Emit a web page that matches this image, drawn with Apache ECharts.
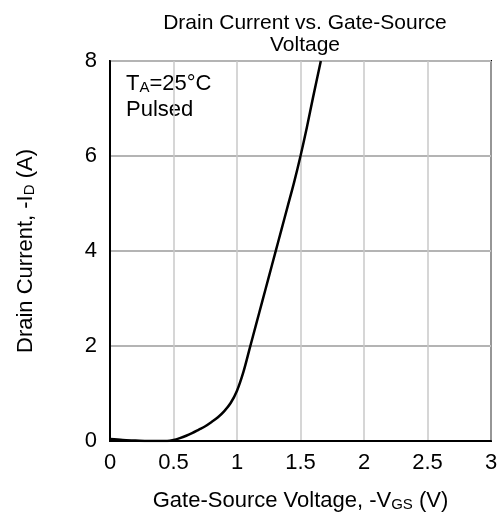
<!DOCTYPE html>
<html>
<head>
<meta charset="utf-8">
<script src="https://cdn.jsdelivr.net/npm/echarts@6/dist/echarts.min.js"></script>
<style>
  html, body { margin: 0; padding: 0; background: #fff; }
  #chart { width: 498px; height: 519px; }
</style>
</head>
<body>
<div id="chart"></div>
<script>
// 栅源电压 -VGS (V)
var vgs = [0, 0.1, 0.2, 0.3, 0.4, 0.45, 0.5, 0.55, 0.6, 0.65, 0.7, 0.75, 0.8, 0.85, 0.9, 0.95, 1.0, 1.05, 1.1, 1.15, 1.2, 1.25, 1.3, 1.35, 1.4, 1.45, 1.5, 1.55, 1.6, 1.66];
// 漏极电流 -ID (A)
var idA = [0.04, 0.02, 0.01, 0, 0, 0, 0.02, 0.06, 0.11, 0.17, 0.24, 0.31, 0.4, 0.5, 0.63, 0.8, 1.06, 1.45, 1.95, 2.45, 2.95, 3.45, 3.95, 4.45, 4.95, 5.45, 6.0, 6.6, 7.25, 8.0];
var xTicks = [0, 0.5, 1, 1.5, 2, 2.5, 3];
var yTicks = [0, 2, 4, 6, 8];

var font = "Liberation Sans, Arial, sans-serif";
var chart = echarts.init(document.getElementById("chart"));

var option = {
  animation: false,
  title: {
    text: "Drain Current vs. Gate-Source\nVoltage",
    left: 300,
    top: 7,
    textAlign: "center",
    textStyle: {
      fontFamily: font,
      fontSize: 21,
      fontWeight: "normal",
      color: "#000",
      lineHeight: 22,
    },
  },
  grid: {
    left: 110,
    right: 7,
    top: 61,
    bottom: 78,
    outerBoundsMode: "none",
    show: true,
    borderColor: "#000",
    borderWidth: 2,
  },
  xAxis: {
    type: "value",
    min: 0,
    max: 3,
    interval: 0.5,
    name: "Gate-Source Voltage, -V{sub|GS} (V)",
    nameLocation: "middle",
    nameGap: 48,
    nameTextStyle: {
      fontFamily: font,
      fontSize: 22,
      color: "#000",
      rich: {
        sub: { fontFamily: font, fontSize: 15, color: "#000", padding: [8, 0, 0, 0] },
      },
    },
    axisLine: { show: true, lineStyle: { color: "#000", width: 2 } },
    axisTick: { show: false },
    axisLabel: {
      fontFamily: font,
      fontSize: 22,
      color: "#000",
      margin: 11,
      formatter: function (v) {
        return xTicks.indexOf(v) >= 0 ? String(v) : "";
      },
    },
    splitLine: { show: true, lineStyle: { color: "#c8c8c8", width: 1.5 } },
  },
  yAxis: {
    type: "value",
    min: 0,
    max: 8,
    interval: 2,
    name: "Drain Current, -I{sub|D} (A)",
    nameLocation: "middle",
    nameGap: 73,
    nameTextStyle: {
      fontFamily: font,
      fontSize: 22,
      color: "#000",
      rich: {
        sub: { fontFamily: font, fontSize: 15, color: "#000", padding: [8, 0, 0, 0] },
      },
    },
    axisLine: { show: true, lineStyle: { color: "#000", width: 2 } },
    axisTick: { show: false },
    axisLabel: {
      fontFamily: font,
      fontSize: 22,
      color: "#000",
      margin: 13,
      formatter: function (v) {
        return yTicks.indexOf(v) >= 0 ? String(v) : "";
      },
    },
    splitLine: { show: true, lineStyle: { color: "#b4b4b4", width: 2 } },
  },
  graphic: [
    {
      type: "text",
      left: 126,
      top: 71,
      style: {
        text: "T{sub|A}=25°C\nPulsed",
        font: "22px " + font,
        fill: "#000",
        lineHeight: 26,
        rich: {
          sub: { fontFamily: font, fontSize: 15, fill: "#000", padding: [8, 0, 0, 0] },
        },
      },
    },
  ],
  series: [
    {
      name: "-ID",
      type: "line",
      data: vgs.map(function (v, i) {
        return [v, idA[i]];
      }),
      smooth: 0.3,
      showSymbol: false,
      clip: true,
      lineStyle: { color: "#000", width: 2.5 },
    },
  ],
};
chart.setOption(option);
</script>
</body>
</html>
